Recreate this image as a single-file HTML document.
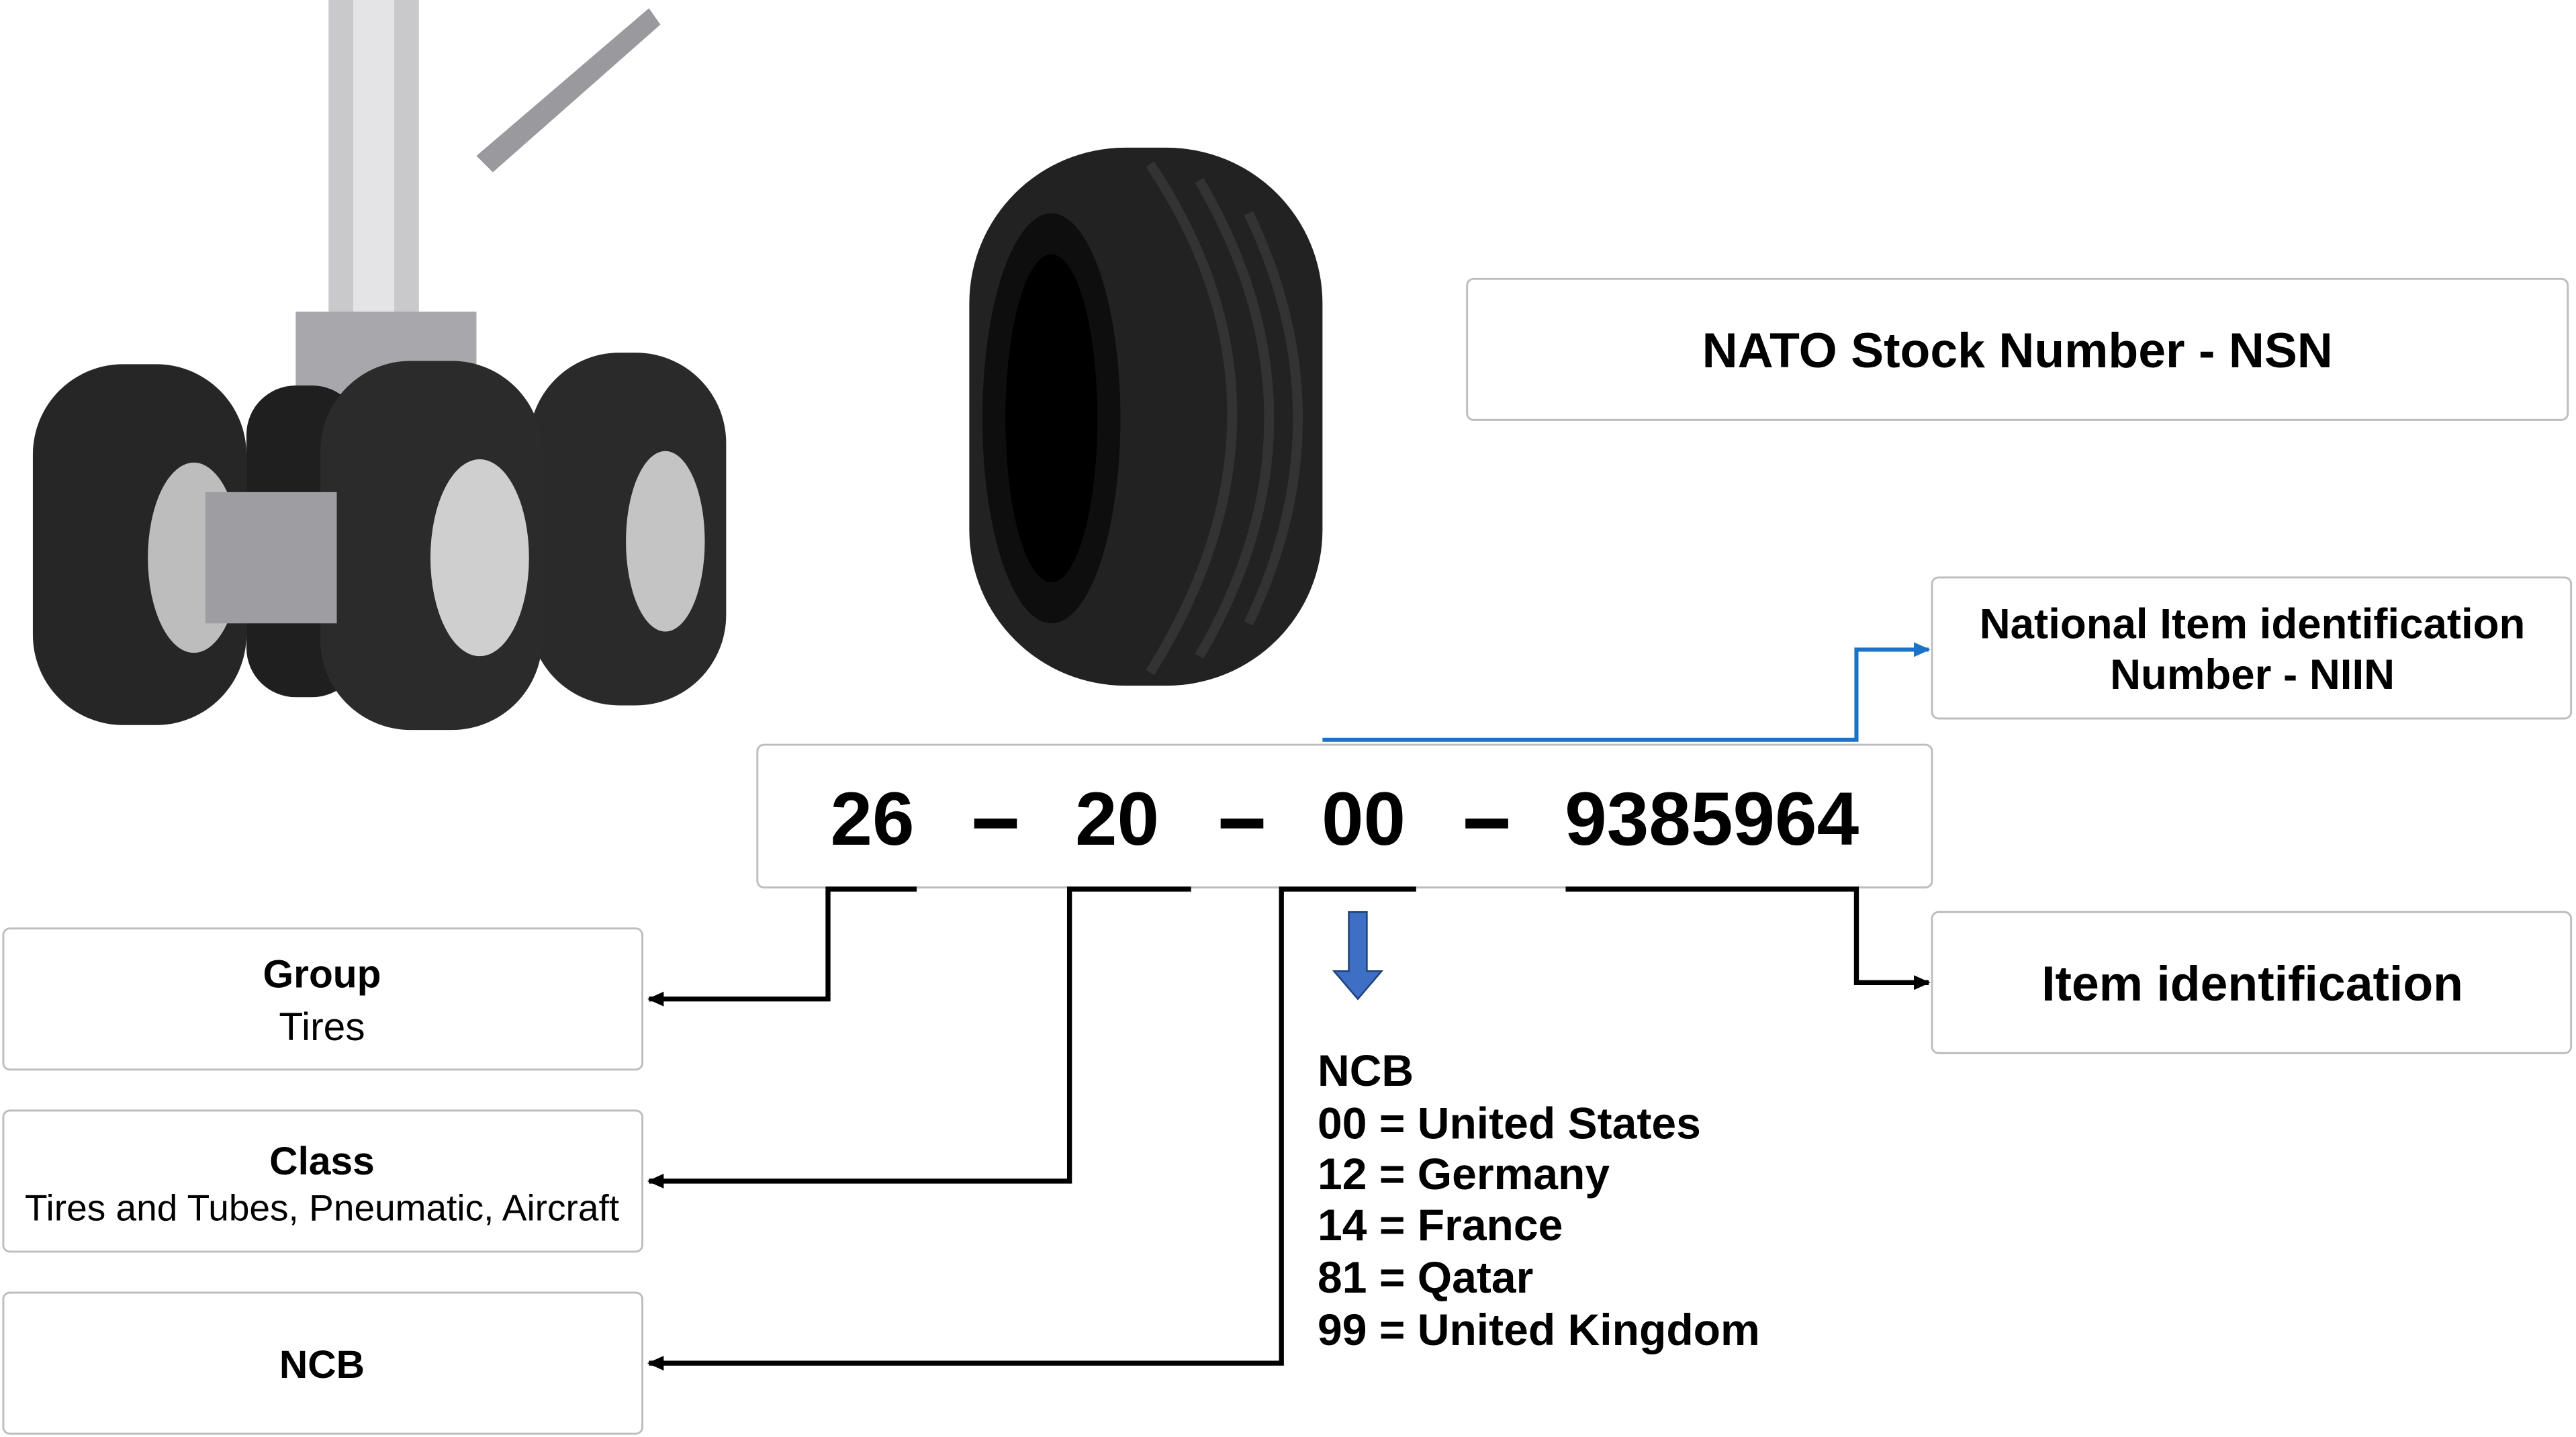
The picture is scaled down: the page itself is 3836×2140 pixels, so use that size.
<!DOCTYPE html>
<html><head><meta charset="utf-8"><style>
html,body{margin:0;padding:0;background:#fff;}
svg{display:block;}
text{font-family:"Liberation Sans",Arial,sans-serif;}
</style></head><body>
<svg width="3836" height="2140" viewBox="0 0 1568 876" preserveAspectRatio="none" xmlns="http://www.w3.org/2000/svg">
<defs>
<marker id="ab" markerWidth="10" markerHeight="9" refX="9" refY="4.5" orient="auto" markerUnits="userSpaceOnUse"><path d="M0,0 L10,4.5 L0,9 z" fill="#000"/></marker>
<marker id="abl" markerWidth="10" markerHeight="9" refX="9" refY="4.5" orient="auto" markerUnits="userSpaceOnUse"><path d="M0,0 L10,4.5 L0,9 z" fill="#1a73c8"/></marker>
</defs>
<g>
<rect x="200" y="0" width="55" height="200" fill="#c9c9cc"/>
<rect x="215" y="0" width="25" height="200" fill="#e4e4e6"/>
<path d="M290 95 L395 5 L402 15 L300 105 z" fill="#9a9a9e"/>
<rect x="180" y="190" width="110" height="120" fill="#a8a8ac"/>
<rect x="20" y="222" width="130" height="220" rx="55" fill="#262626"/>
<ellipse cx="118" cy="340" rx="28" ry="58" fill="#bdbdbd"/>
<rect x="322" y="215" width="120" height="215" rx="55" fill="#2a2a2a"/>
<ellipse cx="405" cy="330" rx="24" ry="55" fill="#c4c4c4"/>
<rect x="150" y="235" width="70" height="190" rx="30" fill="#1f1f1f"/>
<rect x="195" y="220" width="135" height="225" rx="55" fill="#2b2b2b"/>
<ellipse cx="292" cy="340" rx="30" ry="60" fill="#cfcfcf"/>
<rect x="125" y="300" width="80" height="80" fill="#9e9ea2"/>
</g>
<g>
<rect x="590" y="90" width="215" height="328" rx="95" fill="#222"/>
<ellipse cx="640" cy="255" rx="42" ry="125" fill="#0e0e0e"/>
<ellipse cx="640" cy="255" rx="28" ry="100" fill="#000"/>
<path d="M700 100 Q800 250 700 410" stroke="#333" stroke-width="6" fill="none"/>
<path d="M730 110 Q815 255 730 400" stroke="#333" stroke-width="6" fill="none"/>
<path d="M760 130 Q820 255 760 380" stroke="#333" stroke-width="6" fill="none"/>
</g>
<g fill="#fff" stroke="#bdbdbd" stroke-width="1.2">
<rect x="893" y="170" width="670" height="86" rx="4"/>
<rect x="1176" y="352" width="389" height="86" rx="4"/>
<rect x="461" y="454" width="715" height="87" rx="4"/>
<rect x="1176" y="556" width="389" height="86" rx="4"/>
<rect x="2" y="566" width="389" height="86" rx="4"/>
<rect x="2" y="677" width="389" height="86" rx="4"/>
<rect x="2" y="788" width="389" height="86" rx="4"/>
</g>
<text x="1228" y="224" font-size="30" font-weight="bold" text-anchor="middle">NATO Stock Number - NSN</text>
<text x="1371" y="389" font-size="26" font-weight="bold" text-anchor="middle">National Item identification</text>
<text x="1371" y="420" font-size="26" font-weight="bold" text-anchor="middle">Number - NIIN</text>
<text x="1371" y="610" font-size="30" font-weight="bold" text-anchor="middle">Item identification</text>
<text x="196" y="602" font-size="24" font-weight="bold" text-anchor="middle">Group</text>
<text x="196" y="634" font-size="24" text-anchor="middle">Tires</text>
<text x="196" y="716" font-size="24" font-weight="bold" text-anchor="middle">Class</text>
<text x="196" y="744" font-size="22.5" text-anchor="middle">Tires and Tubes, Pneumatic, Aircraft</text>
<text x="196" y="840" font-size="24" font-weight="bold" text-anchor="middle">NCB</text>
<g font-family="'Liberation Sans Narrow','Liberation Sans',sans-serif" font-size="46" font-weight="bold" text-anchor="middle">
<text x="531" y="515">26</text>
<text x="680" y="515">20</text>
<text x="830" y="515">00</text>
<text x="1042" y="515">9385964</text>
</g>
<g fill="#000">
<rect x="593" y="499" width="26" height="6"/>
<rect x="743" y="499" width="26" height="6"/>
<rect x="892" y="499" width="26" height="6"/>
</g>
<g stroke="#000" stroke-width="3" fill="none">
<path d="M558 542 H504 V609 H395" marker-end="url(#ab)"/>
<path d="M725 542 H651 V720 H395" marker-end="url(#ab)"/>
<path d="M862 542 H780 V831 H395" marker-end="url(#ab)"/>
<path d="M953 542 H1130 V599 H1174" marker-end="url(#ab)"/>
</g>
<path d="M805 451 H1130 V396 H1174" stroke="#1a73c8" stroke-width="2.5" fill="none" marker-end="url(#abl)"/>
<path d="M821 556 H832 V592 H841 L826.5 609 L812 592 H821 z" fill="#3d6fc4" stroke="#1f3f7a" stroke-width="1"/>
<g font-size="27" font-weight="bold">
<text x="802" y="662">NCB</text>
<text x="802" y="694">00 = United States</text>
<text x="802" y="725">12 = Germany</text>
<text x="802" y="756">14 = France</text>
<text x="802" y="788">81 = Qatar</text>
<text x="802" y="820">99 = United Kingdom</text>
</g>
</svg>
</body></html>
